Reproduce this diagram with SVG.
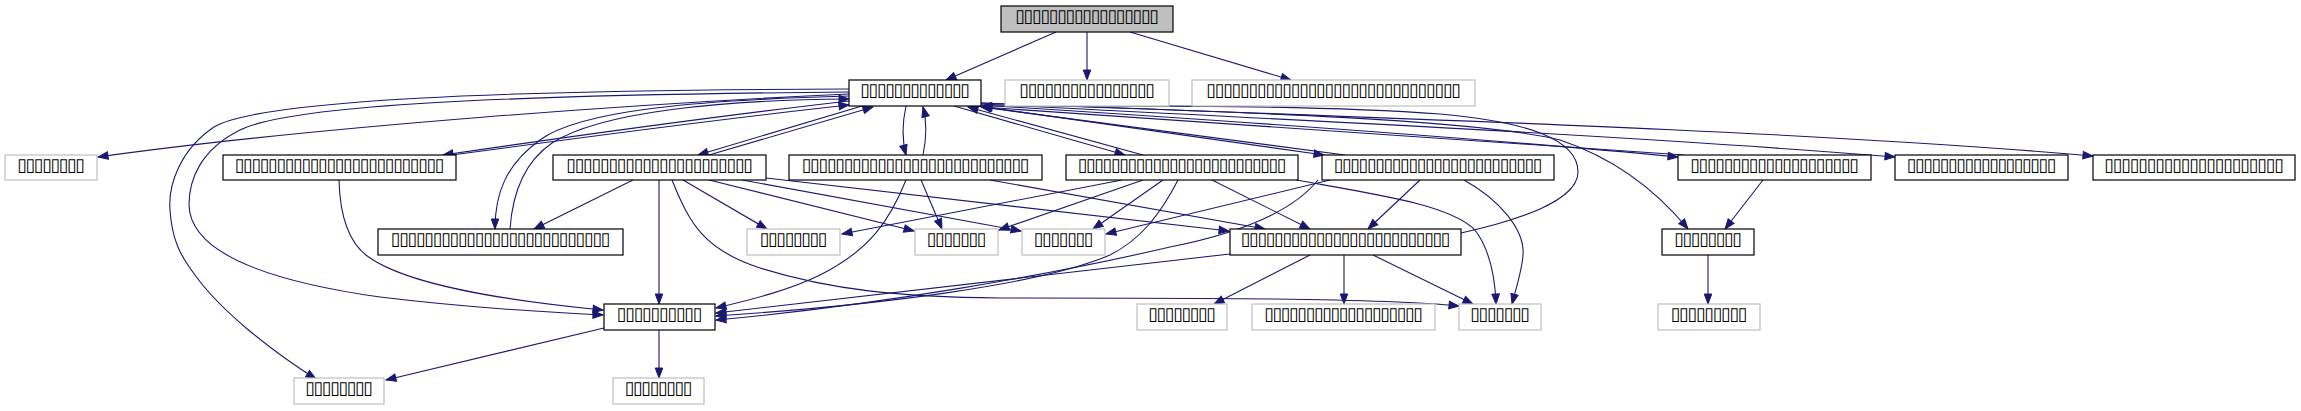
<svg xmlns="http://www.w3.org/2000/svg" width="2301" height="411" viewBox="0 0 2301 411">
<style>
.nd rect{fill:#fff;stroke:#000;stroke-width:1.2}
.gr rect{fill:#fff;stroke:#bfbfbf;stroke-width:1.2}
.top rect{fill:#bfbfbf;stroke:#000;stroke-width:1.2}
text{font-family:"DejaVu Sans","Liberation Sans",sans-serif;font-size:18px;fill:#000;text-anchor:middle;transform:rotate(0.002deg)}
#edges path{fill:none;stroke:#191970;stroke-width:1.1;marker-end:url(#ah)}
</style>
<defs>
<marker id="ah" markerUnits="userSpaceOnUse" markerWidth="12" markerHeight="9" refX="10" refY="3.75" orient="auto" overflow="visible">
<path d="M0,0 L10,3.75 L0,7.5 z" fill="#191970" stroke="#191970" stroke-width="1"/>
</marker>
</defs>
<rect width="2301" height="411" fill="#fff"/>
<g id="edges">
<path d="M1056,32 L946,80"/>
<path d="M1087,32 L1087,80"/>
<path d="M1130,32 L1291,80"/>
<path d="M849,94 C 650,103 320,126 98,157"/>
<path d="M849,101 C 700,118 560,138 443,155"/>
<path d="M452,155 C 570,139 710,120 849,105"/>
<path d="M862,106 L698,155"/>
<path d="M709,155 L873,107"/>
<path d="M906,106 C 902,124 902,140 906,155"/>
<path d="M923,155 C 927,136 927,122 923,107"/>
<path d="M954,106 L1125,155"/>
<path d="M1143,155 L968,107"/>
<path d="M978,106 L1324,155"/>
<path d="M1345,155 L981,107"/>
<path d="M981,105 C 1250,122 1480,138 1678,157"/>
<path d="M1684,155 C 1480,140 1250,124 982,107"/>
<path d="M981,104 C 1300,120 1650,137 1895,157"/>
<path d="M981,103 C 1350,117 1800,130 2093,156"/>
<path d="M981,103 C 1250,112 1480,120 1560,140 C 1620,160 1660,195 1688,229"/>
<path d="M1763,180 L1725,229"/>
<path d="M1708,255 L1708,304"/>
<path d="M849,89 C 500,90 260,100 214,127 C 180,150 168,185 170,210 C 172,240 180,255 195,275 C 220,310 270,350 316,379"/>
<path d="M849,92 C 500,95 290,105 240,130 C 200,150 189,180 189,205 C 190,250 260,280 380,297 C 470,308 540,312 603,315"/>
<path d="M339,180 C 340,220 350,245 370,258 C 410,285 500,300 603,310"/>
<path d="M849,96 C 700,100 580,110 540,140 C 505,165 495,195 495,229"/>
<path d="M510,229 C 512,200 520,165 552,143 C 600,112 720,100 849,99"/>
<path d="M633,180 L534,229"/>
<path d="M659,180 L659,304"/>
<path d="M683,180 L767,229"/>
<path d="M709,180 L914,231"/>
<path d="M742,180 L1021,231"/>
<path d="M766,178 L1229,231"/>
<path d="M672,180 C 690,225 705,250 760,268 C 830,290 900,297 1000,298 C 1200,298 1380,298 1459,306"/>
<path d="M906,180 C 890,220 870,250 820,275 C 790,290 750,300 716,308"/>
<path d="M921,180 L942,229"/>
<path d="M990,180 L1265,229"/>
<path d="M1122,180 L842,234"/>
<path d="M1143,180 L999,230"/>
<path d="M1163,180 L1093,229"/>
<path d="M1178,180 C 1160,215 1140,240 1110,255 C 1040,285 880,305 716,316"/>
<path d="M1212,180 L1310,229"/>
<path d="M1296,180 C 1380,195 1450,205 1475,230 C 1490,250 1495,275 1496,304"/>
<path d="M1330,180 L1106,234"/>
<path d="M1318,180 C 1290,215 1230,235 1170,247 C 1050,275 880,305 716,320"/>
<path d="M1420,180 L1368,229"/>
<path d="M1464,180 C 1500,200 1525,230 1523,255 C 1522,270 1517,285 1512,304"/>
<path d="M1230,254 L716,313"/>
<path d="M1310,255 L1214,304"/>
<path d="M1344,255 L1344,304"/>
<path d="M1373,255 L1473,304"/>
<path d="M1461,233 C 1520,220 1578,200 1578,172 C 1578,140 1530,122 1440,114 C 1300,104 1100,106 982,106"/>
<path d="M604,328 L386,380"/>
<path d="M659,330 L659,378"/>
</g>
<g id="n_top" class="top"><rect x="1001" y="6" width="172" height="26"/><text x="1087" y="22" textLength="144" lengthAdjust="spacing">▯▯▯▯▯▯▯▯▯▯▯▯▯▯▯▯▯</text></g>
<g id="n_main" class="nd"><rect x="849" y="80" width="132" height="26"/><text x="915" y="96" textLength="110" lengthAdjust="spacing">▯▯▯▯▯▯▯▯▯▯▯▯▯</text></g>
<g id="n_g1" class="gr"><rect x="1005" y="80" width="164" height="26"/><text x="1087" y="96" textLength="136" lengthAdjust="spacing">▯▯▯▯▯▯▯▯▯▯▯▯▯▯▯▯</text></g>
<g id="n_g2" class="gr"><rect x="1192" y="80" width="283" height="26"/><text x="1333.5" y="96" textLength="255" lengthAdjust="spacing">▯▯▯▯▯▯▯▯▯▯▯▯▯▯▯▯▯▯▯▯▯▯▯▯▯▯▯▯▯▯</text></g>
<g id="n_lg" class="gr"><rect x="5" y="155" width="92" height="25"/><text x="51" y="171" textLength="68" lengthAdjust="spacing">▯▯▯▯▯▯▯▯</text></g>
<g id="n_a" class="nd"><rect x="223" y="155" width="233" height="25"/><text x="339.5" y="171" textLength="210" lengthAdjust="spacing">▯▯▯▯▯▯▯▯▯▯▯▯▯▯▯▯▯▯▯▯▯▯▯▯▯</text></g>
<g id="n_b" class="nd"><rect x="553" y="155" width="213" height="25"/><text x="659.5" y="171" textLength="187" lengthAdjust="spacing">▯▯▯▯▯▯▯▯▯▯▯▯▯▯▯▯▯▯▯▯▯▯</text></g>
<g id="n_c" class="nd"><rect x="789" y="155" width="253" height="25"/><text x="915.5" y="171" textLength="228" lengthAdjust="spacing">▯▯▯▯▯▯▯▯▯▯▯▯▯▯▯▯▯▯▯▯▯▯▯▯▯▯▯</text></g>
<g id="n_d" class="nd"><rect x="1066" y="155" width="232" height="25"/><text x="1182" y="171" textLength="209" lengthAdjust="spacing">▯▯▯▯▯▯▯▯▯▯▯▯▯▯▯▯▯▯▯▯▯▯▯▯▯</text></g>
<g id="n_e" class="nd"><rect x="1322" y="155" width="232" height="25"/><text x="1438" y="171" textLength="209" lengthAdjust="spacing">▯▯▯▯▯▯▯▯▯▯▯▯▯▯▯▯▯▯▯▯▯▯▯▯▯</text></g>
<g id="n_f" class="nd"><rect x="1678" y="155" width="193" height="25"/><text x="1774.5" y="171" textLength="169" lengthAdjust="spacing">▯▯▯▯▯▯▯▯▯▯▯▯▯▯▯▯▯▯▯▯</text></g>
<g id="n_g" class="nd"><rect x="1895" y="155" width="173" height="25"/><text x="1981.5" y="171" textLength="150" lengthAdjust="spacing">▯▯▯▯▯▯▯▯▯▯▯▯▯▯▯▯▯▯</text></g>
<g id="n_h" class="nd"><rect x="2093" y="155" width="202" height="25"/><text x="2194" y="171" textLength="180" lengthAdjust="spacing">▯▯▯▯▯▯▯▯▯▯▯▯▯▯▯▯▯▯▯▯▯</text></g>
<g id="n_i" class="nd"><rect x="378" y="229" width="245" height="26"/><text x="500.5" y="245" textLength="220" lengthAdjust="spacing">▯▯▯▯▯▯▯▯▯▯▯▯▯▯▯▯▯▯▯▯▯▯▯▯▯▯</text></g>
<g id="n_m" class="gr"><rect x="747" y="229" width="93" height="26"/><text x="793.5" y="245" textLength="68" lengthAdjust="spacing">▯▯▯▯▯▯▯▯</text></g>
<g id="n_n" class="gr"><rect x="915" y="229" width="83" height="26"/><text x="956.5" y="245" textLength="60" lengthAdjust="spacing">▯▯▯▯▯▯▯</text></g>
<g id="n_o" class="gr"><rect x="1022" y="229" width="83" height="26"/><text x="1063.5" y="245" textLength="60" lengthAdjust="spacing">▯▯▯▯▯▯▯</text></g>
<g id="n_p" class="nd"><rect x="1230" y="229" width="231" height="26"/><text x="1345.5" y="245" textLength="210" lengthAdjust="spacing">▯▯▯▯▯▯▯▯▯▯▯▯▯▯▯▯▯▯▯▯▯▯▯▯▯</text></g>
<g id="n_q" class="nd"><rect x="1662" y="229" width="92" height="26"/><text x="1708" y="245" textLength="68" lengthAdjust="spacing">▯▯▯▯▯▯▯▯</text></g>
<g id="n_j" class="nd"><rect x="604" y="304" width="111" height="26"/><text x="659.5" y="320" textLength="86" lengthAdjust="spacing">▯▯▯▯▯▯▯▯▯▯</text></g>
<g id="n_b1" class="gr"><rect x="1137" y="304" width="90" height="26"/><text x="1182" y="320" textLength="68" lengthAdjust="spacing">▯▯▯▯▯▯▯▯</text></g>
<g id="n_b2" class="gr"><rect x="1252" y="304" width="183" height="26"/><text x="1343.5" y="320" textLength="159" lengthAdjust="spacing">▯▯▯▯▯▯▯▯▯▯▯▯▯▯▯▯▯▯▯</text></g>
<g id="n_b3" class="gr"><rect x="1459" y="304" width="82" height="26"/><text x="1500" y="320" textLength="60" lengthAdjust="spacing">▯▯▯▯▯▯▯</text></g>
<g id="n_b4" class="gr"><rect x="1658" y="304" width="102" height="26"/><text x="1709" y="320" textLength="77" lengthAdjust="spacing">▯▯▯▯▯▯▯▯▯</text></g>
<g id="n_k" class="gr"><rect x="294" y="378" width="90" height="26"/><text x="339" y="394" textLength="68" lengthAdjust="spacing">▯▯▯▯▯▯▯▯</text></g>
<g id="n_l" class="gr"><rect x="613" y="378" width="91" height="26"/><text x="658.5" y="394" textLength="68" lengthAdjust="spacing">▯▯▯▯▯▯▯▯</text></g>
</svg>
